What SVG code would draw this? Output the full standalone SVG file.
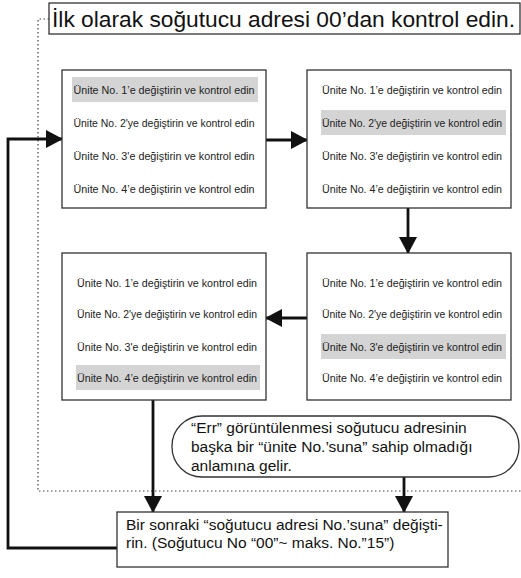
<svg xmlns="http://www.w3.org/2000/svg" width="521" height="578" viewBox="0 0 521 578">
<style>
.box{fill:#fff;stroke:#333;stroke-width:1.3}
.hl{fill:#d4d4d4}
.row{font-family:"Liberation Sans",Arial,sans-serif;font-size:11.5px;fill:#222;text-anchor:middle}
.txt{font-family:"Liberation Sans",Arial,sans-serif;font-size:15.5px;fill:#111}
.conn{stroke:#111;stroke-width:2.8;fill:none}
.dot{stroke:#444;stroke-width:1.2;stroke-dasharray:1.5 2.5;fill:none}
</style>
<defs>
<marker id="ah" markerUnits="userSpaceOnUse" markerWidth="17" markerHeight="18" refX="16" refY="9" orient="auto">
<path d="M0,0 L17,9 L0,18 z" fill="#111"/>
</marker>
</defs>
<path class="dot" d="M49,19 H38 V491 H521"/>
<g id="title">
<rect x="49" y="3" width="471" height="31" fill="#fff" stroke="#333" stroke-width="1.3"/>
<text x="52" y="27" font-family="Liberation Sans, Arial, sans-serif" font-size="21.5" fill="#111" textLength="463" lengthAdjust="spacingAndGlyphs">İlk olarak soğutucu adresi 00’dan kontrol edin.</text>
</g>
<g id="connectors">
<path class="conn" d="M266,140 H307" marker-end="url(#ah)"/>
<path class="conn" d="M408,208 V253" marker-end="url(#ah)"/>
<path class="conn" d="M307,318 H266" marker-end="url(#ah)"/>
<path class="conn" d="M153,400 V512" marker-end="url(#ah)"/>
<path class="conn" d="M404,477 V512" marker-end="url(#ah)"/>
<path class="conn" d="M117,548 H8 V139 H62" marker-end="url(#ah)"/>
</g>
<g id="box1">
<rect class="box" x="62" y="70" width="204" height="138"/>
<rect class="hl" x="72" y="77" width="186" height="25"/>
<text class="row" x="164" y="93.5" textLength="181" lengthAdjust="spacingAndGlyphs">Ünite No. 1’e değiştirin ve kontrol edin</text>
<text class="row" x="164" y="126.5" textLength="181" lengthAdjust="spacingAndGlyphs">Ünite No. 2'ye değiştirin ve kontrol edin</text>
<text class="row" x="164" y="159.5" textLength="181" lengthAdjust="spacingAndGlyphs">Ünite No. 3'e değiştirin ve kontrol edin</text>
<text class="row" x="164" y="192.5" textLength="181" lengthAdjust="spacingAndGlyphs">Ünite No. 4’e değiştirin ve kontrol edin</text>
</g>
<g id="box2">
<rect class="box" x="307" y="70" width="204" height="138"/>
<rect class="hl" x="321" y="110" width="185" height="25"/>
<text class="row" x="412" y="93.5" textLength="180" lengthAdjust="spacingAndGlyphs">Ünite No. 1’e değiştirin ve kontrol edin</text>
<text class="row" x="412" y="126.5" textLength="180" lengthAdjust="spacingAndGlyphs">Ünite No. 2'ye değiştirin ve kontrol edin</text>
<text class="row" x="412" y="159.5" textLength="180" lengthAdjust="spacingAndGlyphs">Ünite No. 3'e değiştirin ve kontrol edin</text>
<text class="row" x="412" y="192.5" textLength="180" lengthAdjust="spacingAndGlyphs">Ünite No. 4’e değiştirin ve kontrol edin</text>
</g>
<g id="box3">
<rect class="box" x="62" y="253" width="204" height="147"/>
<rect class="hl" x="76" y="365" width="184" height="25"/>
<text class="row" x="167" y="286.5" textLength="180" lengthAdjust="spacingAndGlyphs">Ünite No. 1’e değiştirin ve kontrol edin</text>
<text class="row" x="167" y="317.5" textLength="180" lengthAdjust="spacingAndGlyphs">Ünite No. 2'ye değiştirin ve kontrol edin</text>
<text class="row" x="167" y="350.5" textLength="180" lengthAdjust="spacingAndGlyphs">Ünite No. 3'e değiştirin ve kontrol edin</text>
<text class="row" x="167" y="381.5" textLength="180" lengthAdjust="spacingAndGlyphs">Ünite No. 4’e değiştirin ve kontrol edin</text>
</g>
<g id="box4">
<rect class="box" x="307" y="253" width="204" height="147"/>
<rect class="hl" x="321" y="334" width="185" height="25"/>
<text class="row" x="412" y="286.5" textLength="180" lengthAdjust="spacingAndGlyphs">Ünite No. 1’e değiştirin ve kontrol edin</text>
<text class="row" x="412" y="317.5" textLength="180" lengthAdjust="spacingAndGlyphs">Ünite No. 2'ye değiştirin ve kontrol edin</text>
<text class="row" x="412" y="350.5" textLength="180" lengthAdjust="spacingAndGlyphs">Ünite No. 3'e değiştirin ve kontrol edin</text>
<text class="row" x="412" y="381.5" textLength="180" lengthAdjust="spacingAndGlyphs">Ünite No. 4’e değiştirin ve kontrol edin</text>
</g>
<g id="note">
<rect class="box" x="172" y="416" width="347" height="61" rx="30" ry="30"/>
<text class="txt" x="191" y="433">“Err” görüntülenmesi soğutucu adresinin</text>
<text class="txt" x="191" y="452">başka bir “ünite No.’suna” sahip olmadığı</text>
<text class="txt" x="191" y="471">anlamına gelir.</text>
</g>
<g id="box5">
<rect class="box" x="117" y="512" width="331" height="55"/>
<text class="txt" x="126" y="530">Bir sonraki “soğutucu adresi No.’suna” değişti-</text>
<text class="txt" x="126" y="548">rin. (Soğutucu No “00”~ maks. No.”15”)</text>
</g>
</svg>
